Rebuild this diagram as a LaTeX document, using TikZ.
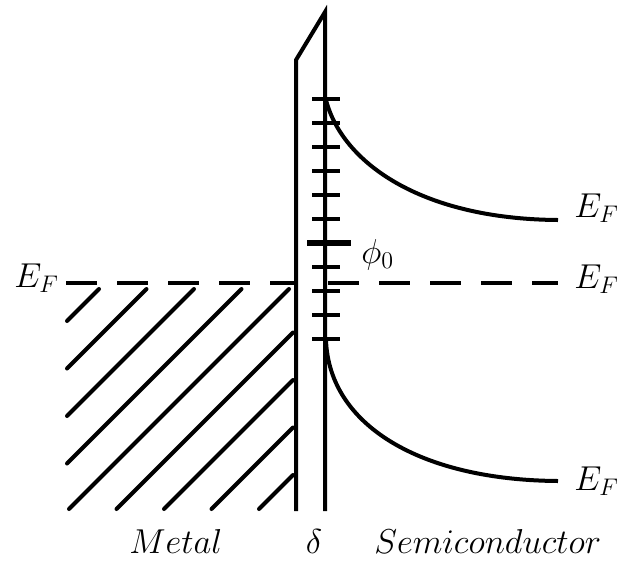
\documentclass[tikz,border=0pt]{standalone}
\usepackage{amsmath}
\usetikzlibrary{positioning}

\begin{document}
\begin{tikzpicture}[
    x=0.5pt, y=-0.5pt,
    wall/.style={line width=2pt, line join=miter},
    hatch/.style={line width=2pt, line cap=round},
    level/.style={line width=2pt, dash pattern=on 15.5pt off 10pt},
    band/.style={line width=2pt},
    trap/.style={line width=1.7pt},
    bigtrap/.style={line width=2.9pt},
    lbl/.style={inner sep=0pt, font=\fontsize{18}{20}\selectfont}
]
\useasboundingbox (0,0) rectangle (621,563);

% oxide layer
\coordinate (oxLb) at (296,511);
\coordinate (oxLt) at (296,60);
\coordinate (oxRt) at (325,12);
\coordinate (oxRb) at (325,511);
\draw[wall] (oxLb) -- (oxLt) -- (oxRt) -- (oxRb);

% filled states of the metal
\foreach \c in {0,...,8} {
    \pgfmathsetmacro{\cc}{388+47.5*\c}
    \pgfmathsetmacro{\xa}{max(\cc-509,67)}
    \pgfmathsetmacro{\xb}{min(\cc-289,293)}
    \draw[hatch] (\xa,\cc-\xa) -- (\xb,\cc-\xb);
}

% interface states
\foreach \k in {0,...,10} {
    \ifnum\k=6 \else
        \draw[trap] (312,99+24*\k) -- (340,99+24*\k);
    \fi
}
\draw[bigtrap] (307,243) -- (351,243);

% Fermi levels and bands
\coordinate (fmL) at (66,283);
\coordinate (fmR) at (296,283);
\coordinate (fsL) at (328,283);
\coordinate (fsR) at (558,283);
\draw[level] (fmL) -- (fmR);
\draw[level] (fsL) -- (fsR);

\coordinate (cbS) at (326,100);
\coordinate (cbE) at (558,220);
\coordinate (vbS) at (326,340);
\coordinate (vbE) at (558,481);
\draw[band] (cbS) .. controls (342,162) and (420,219) .. (cbE);
\draw[band] (vbS) .. controls (329,425) and (420,480) .. (vbE);

% labels
\node[lbl, anchor=base west] (efm) at (14,287) {$E_F$};
\node[lbl, anchor=base west] (efc) at (574,217) {$E_F$};
\node[lbl, anchor=base west] (efi) at (574,288) {$E_F$};
\node[lbl, anchor=base west] (efv) at (574,490) {$E_F$};
\node[lbl, anchor=base west] (phi) at (361,263) {$\phi_0$};
\node[lbl, anchor=base west] (metal) at (129,553) {$Metal$};
\node[lbl, anchor=base] (delta) at (314,553) {$\delta$};
\node[lbl, anchor=base west] (semi) at (374,553) {$Semiconductor$};
\end{tikzpicture}
\end{document}
